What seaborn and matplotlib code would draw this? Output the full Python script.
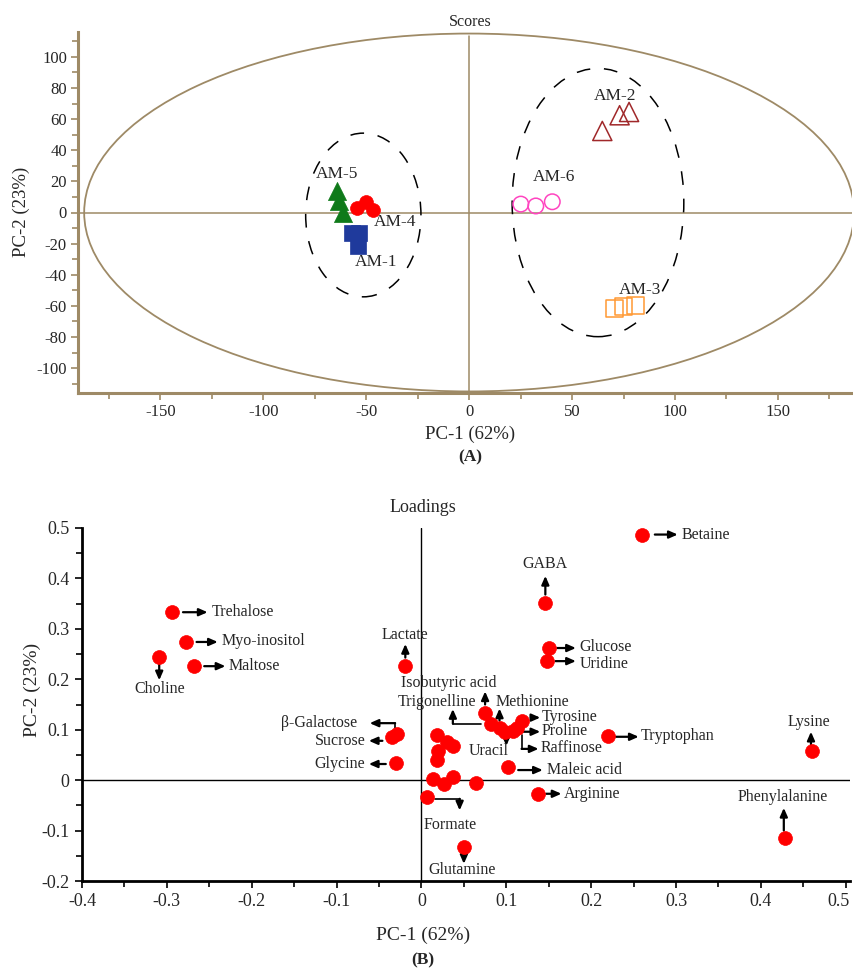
import numpy as np
import pandas as pd
import matplotlib
matplotlib.use("Agg")
import matplotlib.pyplot as plt
import matplotlib.transforms as mtransforms
from matplotlib.patches import Ellipse
from matplotlib.ticker import MultipleLocator
import seaborn as sns

# ---- scores (panel A) ----
groups = ["AM-1", "AM-2", "AM-3", "AM-4", "AM-5", "AM-6"]
am1_pc1 = [-57.0, -53.4, -54.2]
am1_pc2 = [-13.3, -12.9, -21.5]
am2_pc1 = [64.7, 73.1, 77.7]
am2_pc2 = [52.4, 62.5, 64.6]
am3_pc1 = [70.4, 75.2, 80.9]
am3_pc2 = [-62.0, -60.4, -59.9]
am4_pc1 = [-54.7, -49.9, -46.9]
am4_pc2 = [2.7, 6.9, 1.6]
am5_pc1 = [-64.4, -63.4, -61.5]
am5_pc2 = [14.0, 7.4, -0.5]
am6_pc1 = [25.1, 32.4, 40.4]
am6_pc2 = [5.4, 4.2, 6.9]

# ---- loadings (panel B) ----
metabolites = ["Betaine", "GABA", "Trehalose", "Myo-inositol", "Glucose", "Choline",
               "Uridine", "Maltose", "Lactate", "Isobutyric acid", "Trigonelline",
               "Methionine", "Tyrosine", "Proline", "Raffinose", "Uracil",
               "Tryptophan", "Maleic acid", "Arginine", "Formate", "Glutamine",
               "Lysine", "Phenylalanine", "β-Galactose", "Sucrose", "Glycine"]
load_pc1 = [0.260, 0.146, -0.294, -0.277, 0.150, -0.309,
            0.148, -0.268, -0.019, 0.075, 0.082,
            0.092, 0.119, 0.108, 0.113, 0.099,
            0.220, 0.102, 0.137, 0.006, 0.050,
            0.460, 0.428, -0.029, -0.035, -0.030]
load_pc2 = [0.487, 0.352, 0.333, 0.274, 0.262, 0.245,
            0.237, 0.226, 0.227, 0.134, 0.112,
            0.104, 0.117, 0.097, 0.104, 0.095,
            0.088, 0.027, -0.027, -0.033, -0.132,
            0.058, -0.114, 0.091, 0.085, 0.034]
other_pc1 = [0.018, 0.030, 0.037, 0.020, 0.018, 0.014, 0.026, 0.037, 0.064]
other_pc2 = [0.089, 0.075, 0.068, 0.058, 0.040, 0.002, -0.008, 0.007, -0.006]

scores = pd.DataFrame({
    "pc1": am1_pc1 + am2_pc1 + am3_pc1 + am4_pc1 + am5_pc1 + am6_pc1,
    "pc2": am1_pc2 + am2_pc2 + am3_pc2 + am4_pc2 + am5_pc2 + am6_pc2,
    "group": [g for g in groups for _ in range(3)],
})
loadings = pd.DataFrame({"pc1": load_pc1 + other_pc1, "pc2": load_pc2 + other_pc2})

# marker styles per group: (marker, colour, filled, size)
group_style = {
    "AM-1": ("s", "#1f3a9c", True, 130),
    "AM-2": ("^", "#a0282a", False, 190),
    "AM-3": ("s", "#ff9933", False, 150),
    "AM-4": ("o", "#ff0000", True, 100),
    "AM-5": ("^", "#0f7a1a", True, 170),
    "AM-6": ("o", "#ff44c0", False, 125),
}
group_label_pos = {"AM-1": (-45, -32), "AM-2": (71, 75), "AM-3": (83, -50),
                   "AM-4": (-36, -6), "AM-5": (-64, 25), "AM-6": (41, 23)}

# annotation layout: arrow path (data coords), text position, alignment
ann = {
    "Betaine": ([(0.275, 0.487), (0.302, 0.487)], (0.307, 0.487), "left"),
    "GABA": ([(0.146, 0.368), (0.146, 0.405)], (0.146, 0.428), "center"),
    "Trehalose": ([(-0.281, 0.333), (-0.252, 0.333)], (-0.247, 0.334), "left"),
    "Myo-inositol": ([(-0.265, 0.274), (-0.240, 0.274)], (-0.236, 0.275), "left"),
    "Maltose": ([(-0.256, 0.226), (-0.231, 0.226)], (-0.227, 0.227), "left"),
    "Glucose": ([(0.160, 0.262), (0.182, 0.262)], (0.186, 0.265), "left"),
    "Uridine": ([(0.158, 0.236), (0.182, 0.236)], (0.186, 0.230), "left"),
    "Choline": ([(-0.309, 0.230), (-0.309, 0.198)], (-0.309, 0.181), "center"),
    "Lactate": ([(-0.019, 0.243), (-0.019, 0.270)], (-0.019, 0.288), "center"),
    "Isobutyric acid": ([(0.075, 0.150), (0.075, 0.176)], (0.032, 0.192), "center"),
    "Trigonelline": ([(0.070, 0.112), (0.037, 0.112), (0.037, 0.141)], (0.018, 0.155), "center"),
    "Methionine": ([(0.092, 0.118), (0.092, 0.142)], (0.131, 0.155), "center"),
    "Tyrosine": ([(0.129, 0.124), (0.140, 0.124)], (0.142, 0.125), "left"),
    "Proline": ([(0.120, 0.096), (0.140, 0.096)], (0.142, 0.097), "left"),
    "Raffinose": ([(0.118, 0.090), (0.118, 0.062), (0.138, 0.062)], (0.140, 0.063), "left"),
    "Uracil": ([(0.100, 0.083), (0.100, 0.068)], (0.079, 0.058), "center"),
    "Tryptophan": ([(0.229, 0.086), (0.256, 0.086)], (0.258, 0.087), "left"),
    "Maleic acid": ([(0.114, 0.020), (0.143, 0.020)], (0.148, 0.021), "left"),
    "Arginine": ([(0.147, -0.027), (0.165, -0.027)], (0.168, -0.027), "left"),
    "Formate": ([(0.016, -0.037), (0.045, -0.037), (0.045, -0.060)], (0.034, -0.088), "center"),
    "Glutamine": ([(0.050, -0.147), (0.050, -0.166)], (0.048, -0.178), "center"),
    "Lysine": ([(0.459, 0.070), (0.459, 0.096)], (0.456, 0.116), "center"),
    "Phenylalanine": ([(0.427, -0.100), (0.427, -0.055)], (0.426, -0.034), "center"),
    "β-Galactose": ([(-0.031, 0.103), (-0.031, 0.113), (-0.061, 0.113)], (-0.076, 0.114), "right"),
    "Sucrose": ([(-0.046, 0.078), (-0.062, 0.078)], (-0.066, 0.078), "right"),
    "Glycine": ([(-0.042, 0.032), (-0.062, 0.032)], (-0.066, 0.033), "right"),
}

sns.set_style("ticks")
plt.rcParams["font.family"] = ["Liberation Serif", "DejaVu Serif"]

W, H = 854, 969
fig = plt.figure(figsize=(W / 100, H / 100), dpi=100)


def box(l, t, r, b):
    return [l / W, 1 - b / H, (r - l) / W, (b - t) / H]


def ftext(x, y, s, **kw):
    fig.text(x / W, 1 - y / H, s, ha="center", va="center", **kw)


tan = "#9e8a66"

# ---------------- panel A ----------------
ax1 = fig.add_axes(box(78, 32, 852, 393))
ax1.add_patch(Ellipse((0, 0), 2 * 187, 2 * 115, fill=False, ec=tan, lw=1.3, zorder=1))
ax1.axhline(0, color=tan, lw=1.1, zorder=1)
ax1.axvline(0, color=tan, lw=1.1, zorder=1, ymax=0.99)
ax1.add_patch(Ellipse((-51.4, -1.6), 2 * 28, 2 * 52.6, fill=False, ec="black",
                      lw=1.1, ls=(0, (9, 9)), zorder=2))
ax1.add_patch(Ellipse((62.6, 6.4), 2 * 41.7, 2 * 86.2, fill=False, ec="black",
                      lw=1.1, ls=(0, (9, 9)), zorder=2))

for g in groups:
    marker, col, filled, size = group_style[g]
    sub = scores[scores["group"] == g]
    if filled:
        sns.scatterplot(data=sub, x="pc1", y="pc2", marker=marker, s=size, color=col,
                        edgecolor=col, linewidth=0.5, ax=ax1, zorder=3, legend=False)
    else:
        sns.scatterplot(data=sub, x="pc1", y="pc2", marker=marker, s=size, color=col,
                        facecolor="none", edgecolor=col, linewidth=1.1, ax=ax1,
                        zorder=3, legend=False)
    tx, ty = group_label_pos[g]
    ax1.text(tx, ty, g, ha="center", va="center", fontsize=12.5, zorder=4)

ax1.set_xlim(-190, 186)
ax1.set_ylim(-116, 116)
ax1.set_xticks(np.arange(-150, 151, 50))
ax1.set_yticks(np.arange(-100, 101, 20))
ax1.set_xticklabels([str(v) for v in range(-150, 151, 50)])
ax1.set_yticklabels([str(v) for v in range(-100, 101, 20)])
ax1.xaxis.set_minor_locator(MultipleLocator(25))
ax1.yaxis.set_minor_locator(MultipleLocator(10))
for sp in ["top", "right"]:
    ax1.spines[sp].set_visible(False)
for sp in ["left", "bottom"]:
    ax1.spines[sp].set_color(tan)
    ax1.spines[sp].set_linewidth(2.2)
ax1.tick_params(which="major", direction="out", length=5, width=1.2, color=tan,
                labelsize=12, pad=3)
ax1.tick_params(which="minor", direction="out", length=4, width=1.2, color=tan)
ax1.set_xlabel("")
ax1.set_ylabel("")
ftext(470, 22, "Scores", fontsize=11.5)
ftext(470, 434, "PC-1 (62%)", fontsize=13.5)
ftext(470, 457, "(A)", fontsize=12.5, fontweight="bold")
ftext(21, 212, "PC-2 (23%)", fontsize=13.5, rotation=90)

# ---------------- panel B ----------------
ax2 = fig.add_axes(box(82, 528, 850, 881))
ax2.axhline(0, color="black", lw=1.0, zorder=1)
ax2.axvline(0, color="black", lw=1.0, zorder=1)
sns.scatterplot(data=loadings, x="pc1", y="pc2", s=100, color="#ff0000",
                edgecolor="#ff0000", linewidth=0.5, ax=ax2, zorder=3, legend=False)

for name in metabolites:
    path, (tx, ty), ha = ann[name]
    if len(path) > 2:
        xs, ys = zip(*path[:-1])
        ax2.plot(xs, ys, color="black", lw=1.2, zorder=2)
    ax2.annotate("", xy=path[-1], xytext=path[-2],
                 arrowprops=dict(arrowstyle="-|>,head_length=0.5,head_width=0.22",
                                 color="black", lw=1.6, shrinkA=0, shrinkB=0),
                 zorder=2)
    ax2.text(tx, ty, name, ha=ha, va="center", fontsize=11.5, zorder=4)

ax2.set_xlim(-0.4, 0.505)
ax2.set_ylim(-0.2, 0.5)
ax2.set_xticks(np.round(np.arange(-0.4, 0.51, 0.1), 1))
ax2.set_xticklabels(["-0.4", "-0.3", "-0.2", "-0.1", "0", "0.1", "0.2", "0.3", "0.4", "0.5"])
ax2.set_yticks(np.round(np.arange(-0.2, 0.51, 0.1), 1))
ax2.set_yticklabels(["-0.2", "-0.1", "0", "0.1", "0.2", "0.3", "0.4", "0.5"])
ax2.xaxis.set_minor_locator(MultipleLocator(0.05))
ax2.yaxis.set_minor_locator(MultipleLocator(0.05))
for sp in ["top", "right"]:
    ax2.spines[sp].set_visible(False)
for sp in ["left", "bottom"]:
    ax2.spines[sp].set_color("black")
    ax2.spines[sp].set_linewidth(2.0)
ax2.tick_params(which="major", direction="out", length=5, width=1.2, color="black",
                labelsize=13, pad=4)
ax2.tick_params(which="minor", direction="out", length=4, width=1.2, color="black")
# the last label sits at the figure edge; nudge it inward a little
last = ax2.get_xticklabels()[-1]
last.set_transform(last.get_transform() +
                   mtransforms.ScaledTranslation(-7 / 100, 0, fig.dpi_scale_trans))
ax2.set_xlabel("")
ax2.set_ylabel("")
ftext(423, 508, "Loadings", fontsize=13)
ftext(423, 935, "PC-1 (62%)", fontsize=14)
ftext(423, 960, "(B)", fontsize=12.5, fontweight="bold")
ftext(32, 690, "PC-2 (23%)", fontsize=14, rotation=90)

fig.savefig("out.png", dpi=100)
